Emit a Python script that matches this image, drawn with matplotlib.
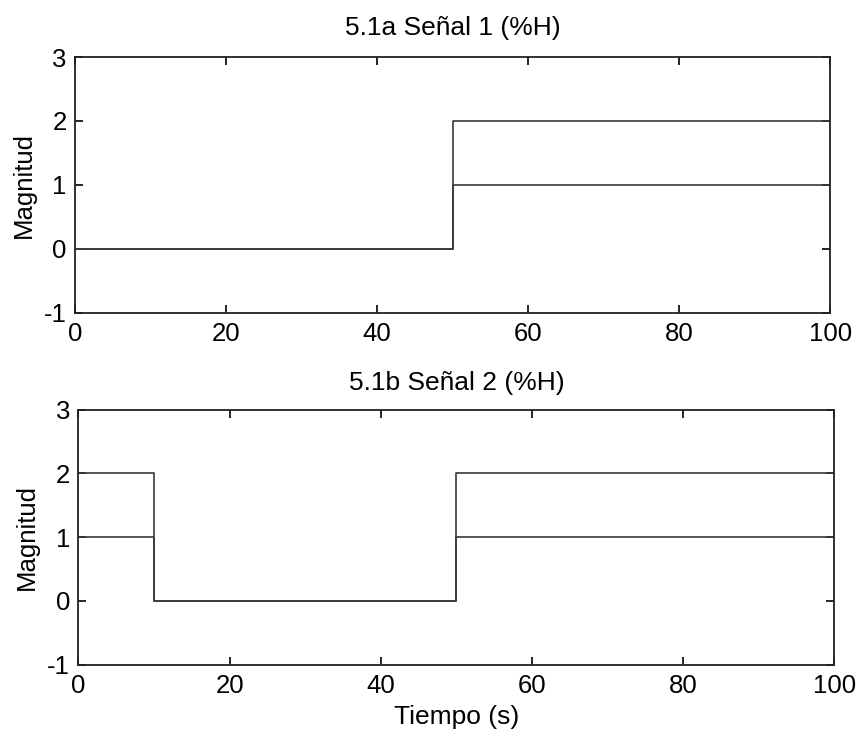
import matplotlib
matplotlib.use('Agg')
import matplotlib.pyplot as plt

# step signals
t_a = [0, 50, 50, 100]
a_hi = [0, 0, 2, 2]
a_lo = [0, 0, 1, 1]

t_b = [0, 10, 10, 50, 50, 100]
b_hi = [2, 2, 0, 0, 2, 2]
b_lo = [1, 1, 0, 0, 1, 1]

x_ticks = [0, 20, 40, 60, 80, 100]
y_ticks = [-1, 0, 1, 2, 3]
y_labels = ['-1', '0', '1', '2', '3']   # MATLAB uses a plain hyphen

FONT = ['Liberation Sans', 'DejaVu Sans']
LINE_COL = '#3a3a3a'

fig = plt.figure(figsize=(8.62, 7.41), dpi=100)
ax1 = fig.add_axes([0.087, 0.578, 0.876, 0.345])
ax2 = fig.add_axes([0.091, 0.103, 0.877, 0.344])


def style(ax, title, title_pad):
    ax.set_xlim(0, 100)
    ax.set_ylim(-1, 3)
    ax.set_xticks(x_ticks)
    ax.set_yticks(y_ticks)
    ax.set_yticklabels(y_labels)
    ax.tick_params(direction='in', top=True, right=True, length=6, width=1.2,
                   labelsize=18.5)
    ax.tick_params(axis='x', pad=7)
    ax.tick_params(axis='y', pad=6)
    for lab in ax.get_xticklabels() + ax.get_yticklabels():
        lab.set_family(FONT)
    for s in ax.spines.values():
        s.set_linewidth(1.3)
        s.set_color('#222222')
    ax.set_title(title, family=FONT, fontsize=19, pad=title_pad)
    ax.set_ylabel('Magnitud', family=FONT, fontsize=18.5, labelpad=6)


ax1.plot(t_a, a_hi, color=LINE_COL, lw=1.2)
ax1.plot(t_a, a_lo, color=LINE_COL, lw=1.2)
style(ax1, '5.1a Señal 1 (%H)', 16)

ax2.plot(t_b, b_hi, color=LINE_COL, lw=1.2)
ax2.plot(t_b, b_lo, color=LINE_COL, lw=1.2)
style(ax2, '5.1b Señal 2 (%H)', 14)
ax2.set_xlabel('Tiempo (s)', family=FONT, fontsize=19, labelpad=5)

fig.savefig('out.png', dpi=100)
